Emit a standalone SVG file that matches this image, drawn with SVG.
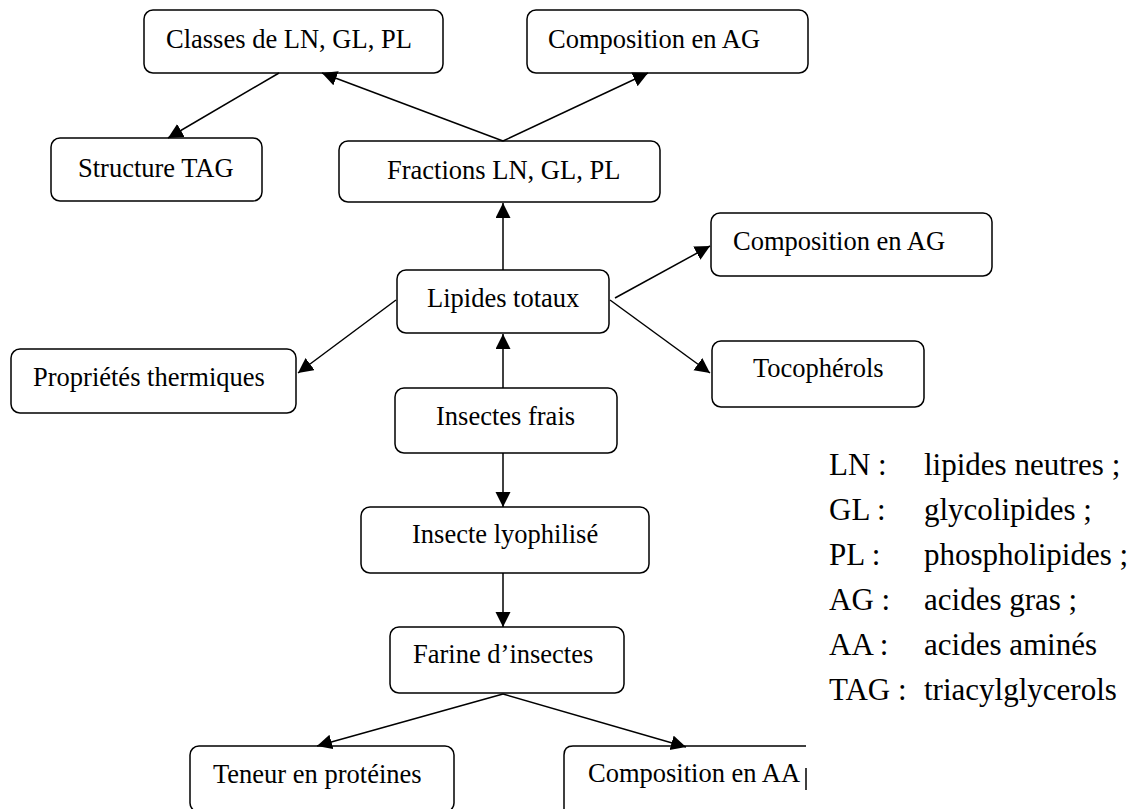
<svg xmlns="http://www.w3.org/2000/svg" width="1138" height="809" viewBox="0 0 1138 809">
<style>
.box{fill:#fff;stroke:#000;stroke-width:1.5}
.t{font-family:"Liberation Serif","Times New Roman",serif;font-size:26.5px;fill:#000}
.lg{font-family:"Liberation Serif","Times New Roman",serif;font-size:31px;fill:#000}
.c{stroke:#000;stroke-width:1.5;fill:none;marker-end:url(#ah)}
</style>
<defs>
<marker id="ah" markerUnits="userSpaceOnUse" markerWidth="16" markerHeight="16" refX="15" refY="7.5" orient="auto">
<path d="M0,0 L15,7.5 L0,15 Z" fill="#000"/>
</marker>
</defs>
<rect width="1138" height="809" fill="#fff"/>
<g id="classes"><rect class="box" x="144" y="10" width="299" height="63" rx="9"/><text class="t" x="166" y="48">Classes de LN, GL, PL</text></g>
<g id="compTop"><rect class="box" x="527" y="10" width="281" height="63" rx="9"/><text class="t" x="548" y="48">Composition en AG</text></g>
<g id="structure"><rect class="box" x="51" y="138" width="211" height="63" rx="9"/><text class="t" x="78" y="177">Structure TAG</text></g>
<g id="fractions"><rect class="box" x="339" y="141" width="321" height="61" rx="9"/><text class="t" x="387" y="179">Fractions LN, GL, PL</text></g>
<g id="compRight"><rect class="box" x="711" y="213" width="281" height="63" rx="9"/><text class="t" x="733" y="250">Composition en AG</text></g>
<g id="lipides"><rect class="box" x="397" y="270" width="212" height="63" rx="9"/><text class="t" x="427" y="307">Lipides totaux</text></g>
<g id="proprietes"><rect class="box" x="11" y="349" width="285" height="64" rx="9"/><text class="t" x="33" y="386">Propriétés thermiques</text></g>
<g id="tocopherols"><rect class="box" x="712" y="341" width="212" height="66" rx="9"/><text class="t" x="753" y="377">Tocophérols</text></g>
<g id="insectesFrais"><rect class="box" x="395" y="388" width="222" height="65" rx="9"/><text class="t" x="436" y="425">Insectes frais</text></g>
<g id="lyophilise"><rect class="box" x="361" y="507" width="288" height="66" rx="9"/><text class="t" x="412" y="543">Insecte lyophilisé</text></g>
<g id="farine"><rect class="box" x="390" y="627" width="234" height="66" rx="9"/><text class="t" x="413" y="663">Farine d’insectes</text></g>
<g id="teneur"><rect class="box" x="190" y="746" width="264" height="66" rx="9"/><text class="t" x="213" y="783">Teneur en protéines</text></g>
<g id="compAA"><path d="M564,812 L564,755 Q564,746 573,746 L806,746 M806,768 L806,790" fill="none" stroke="#000" stroke-width="1.5"/><text class="t" x="588" y="782">Composition en AA</text></g>
<g id="connectors">
<line class="c" x1="279" y1="73" x2="168" y2="138"/>
<line class="c" x1="503" y1="141" x2="322" y2="73"/>
<line class="c" x1="503" y1="141" x2="648" y2="73"/>
<line class="c" x1="503" y1="270" x2="503" y2="203"/>
<line class="c" x1="396" y1="300" x2="298" y2="373"/>
<line class="c" x1="615" y1="298" x2="710" y2="246"/>
<line class="c" x1="610" y1="300" x2="710" y2="373"/>
<line class="c" x1="503" y1="388" x2="503" y2="334"/>
<line class="c" x1="503" y1="453" x2="503" y2="507"/>
<line class="c" x1="503" y1="573" x2="503" y2="627"/>
<line class="c" x1="503" y1="694" x2="317" y2="746"/>
<line class="c" x1="503" y1="694" x2="686" y2="747"/>
</g>
<g id="legend">
<text class="lg" x="829" y="475">LN :</text><text class="lg" x="924" y="475">lipides neutres ;</text>
<text class="lg" x="829" y="520">GL :</text><text class="lg" x="924" y="520">glycolipides ;</text>
<text class="lg" x="829" y="565">PL :</text><text class="lg" x="924" y="565">phospholipides ;</text>
<text class="lg" x="829" y="610">AG :</text><text class="lg" x="924" y="610">acides gras ;</text>
<text class="lg" x="829" y="655">AA :</text><text class="lg" x="924" y="655">acides aminés</text>
<text class="lg" x="829" y="700">TAG :</text><text class="lg" x="924" y="700">triacylglycerols</text>
</g>
</svg>
